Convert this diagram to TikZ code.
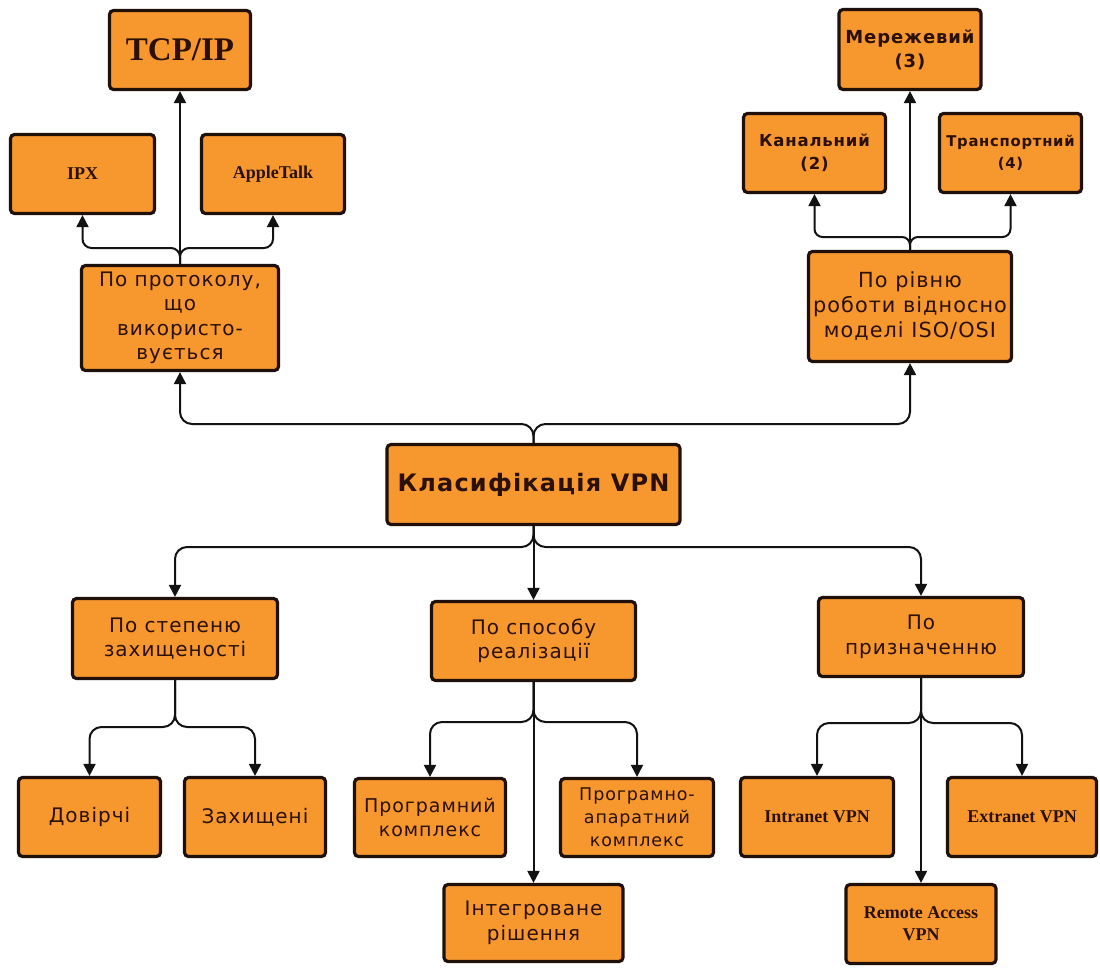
\documentclass[tikz,border=0pt]{standalone}
\usepackage{fontspec}
\usetikzlibrary{arrows.meta}
\newfontfamily\cyr[LetterSpace=5]{DejaVu Sans}
\newfontfamily\tms{Liberation Serif}
\definecolor{orfill}{HTML}{F7982F}
\definecolor{bordc}{HTML}{20100A}
\definecolor{txtc}{HTML}{2A1006}
\definecolor{linec}{HTML}{121212}
\begin{document}
\begin{tikzpicture}[x=1pt,y=-1pt,
  box/.style={draw=bordc, line width=3.2pt, fill=orfill, rounded corners=4pt,
    align=center, text=txtc, inner sep=0pt},
  sz/.style 2 args={minimum width=#1pt, minimum height=#2pt},
  big/.style={font=\cyr\fontsize{20}{24.5}\selectfont},
  ser/.style={font=\tms\bfseries\fontsize{18}{22}\selectfont},
  arr/.style={draw=linec, line width=2pt, -{Triangle[length=12pt,width=12pt]},
    rounded corners=12pt}]
\useasboundingbox[fill=white] (0,0) rectangle (1100,967);

% top-left group
\node[box, sz={141}{79}, font=\tms\bfseries\fontsize{33}{36}\selectfont] (tcp) at (180,50) {TCP/IP};
\node[box, sz={144}{79}, ser] (ipx) at (82.5,174) {IPX};
\node[box, sz={143}{79}, ser] (apple) at (273,174) {AppleTalk};
\node[box, sz={197}{105}, big] (proto) at (180,318) {По протоколу,\\що\\використо-\\вується};

% top-right group
\node[box, sz={142}{80}, font=\cyr\bfseries\fontsize{18}{24}\selectfont] (mer) at (910,49.5) {Мережевий\\(3)};
\node[box, sz={142}{79}, font=\cyr\bfseries\fontsize{16.5}{23}\selectfont] (kan) at (814.5,153) {Канальний\\(2)};
\node[box, sz={142}{79}, font=\cyr\bfseries\fontsize{14.8}{22}\selectfont] (trans) at (1010.5,153) {Транспортний\\(4)};
\node[box, sz={203}{110}, font=\cyr\fontsize{20.8}{25}\selectfont] (rivn) at (910,306.5) {По рівню\\роботи відносно\\моделі ISO/OSI};

% root
\node[box, sz={293}{80}, font=\cyr\bfseries\fontsize{24}{28}\selectfont] (klas) at (533.5,484.5) {Класифікація VPN};

% second level
\node[box, sz={205}{80}, big] (stepen) at (175,638.5) {По степеню\\захищеності};
\node[box, sz={204}{79}, big] (sposib) at (533.5,641) {По способу\\реалізації};
\node[box, sz={205}{79}, big] (pryzn) at (921,637) {По\\призначенню};

% leaves
\node[box, sz={142}{79}, big] (dov) at (89.5,817) {Довірчі};
\node[box, sz={141}{79}, big] (zah) at (255,817) {Захищені};
\node[box, sz={151}{78}, font=\cyr\fontsize{19}{24}\selectfont] (prog) at (430,817.5) {Програмний\\комплекс};
\node[box, sz={153}{78}, font=\cyr\fontsize{17.5}{23}\selectfont] (progap) at (637,817.5) {Програмно-\\апаратний\\комплекс};
\node[box, sz={179}{77}, big] (integr) at (533.5,923) {Інтегроване\\рішення};
\node[box, sz={153}{79}, ser] (intra) at (817,817) {Intranet VPN};
\node[box, sz={149}{79}, ser] (extra) at (1022,817) {Extranet VPN};
\node[box, sz={150}{79}, ser] (remote) at (921,924) {Remote Access\\VPN};

% junction levels
\coordinate (jt) at (533.5,424);
\coordinate (jb) at (533.5,547);
\coordinate (jp) at (180,248);
\coordinate (jr) at (910,237);
\coordinate (js) at (175,727);
\coordinate (jsp) at (533.5,722);
\coordinate (jpr) at (921,723);

% root connectors
\draw[arr] (klas.north) -- (klas.north |- jt) -- (proto.south |- jt) -- (proto.south);
\draw[arr] (klas.north) -- (klas.north |- jt) -- (rivn.south |- jt) -- (rivn.south);
\draw[arr] (klas.south) -- (klas.south |- jb) -- (stepen.north |- jb) -- (stepen.north);
\draw[arr] (klas.south) -- (sposib.north);
\draw[arr] (klas.south) -- (klas.south |- jb) -- (pryzn.north |- jb) -- (pryzn.north);

% protocol connectors
\draw[arr] (proto.north) -- (tcp.south);
\draw[arr, rounded corners=9pt] (proto.north) -- (proto.north |- jp) -- (ipx.south |- jp) -- (ipx.south);
\draw[arr, rounded corners=9pt] (proto.north) -- (proto.north |- jp) -- (apple.south |- jp) -- (apple.south);

% OSI connectors
\draw[arr] (rivn.north) -- (mer.south);
\draw[arr, rounded corners=8pt] (rivn.north) -- (rivn.north |- jr) -- (kan.south |- jr) -- (kan.south);
\draw[arr, rounded corners=8pt] (rivn.north) -- (rivn.north |- jr) -- (trans.south |- jr) -- (trans.south);

% security connectors
\draw[arr] (stepen.south) -- (stepen.south |- js) -- (dov.north |- js) -- (dov.north);
\draw[arr] (stepen.south) -- (stepen.south |- js) -- (zah.north |- js) -- (zah.north);

% implementation connectors
\draw[arr] (sposib.south) -- (sposib.south |- jsp) -- (prog.north |- jsp) -- (prog.north);
\draw[arr] (sposib.south) -- (sposib.south |- jsp) -- (progap.north |- jsp) -- (progap.north);
\draw[arr] (sposib.south) -- (integr.north);

% purpose connectors
\draw[arr] (pryzn.south) -- (pryzn.south |- jpr) -- (intra.north |- jpr) -- (intra.north);
\draw[arr] (pryzn.south) -- (pryzn.south |- jpr) -- (extra.north |- jpr) -- (extra.north);
\draw[arr] (pryzn.south) -- (remote.north);
\end{tikzpicture}
\end{document}
